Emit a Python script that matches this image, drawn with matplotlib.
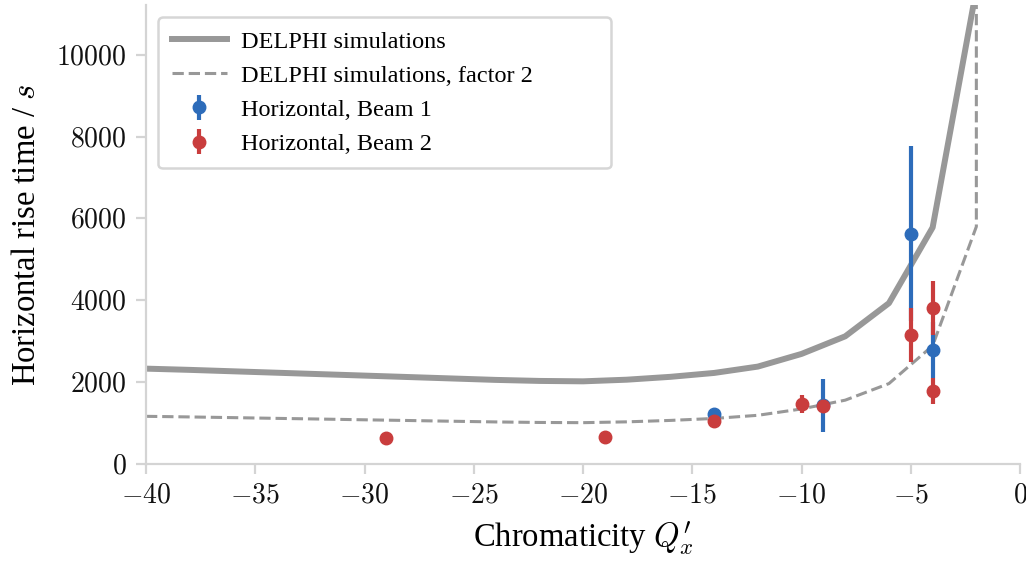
import matplotlib
matplotlib.use("Agg")
import matplotlib.pyplot as plt
from matplotlib.ticker import FuncFormatter, MultipleLocator

# DELPHI rise times on a chromaticity grid (last entry: unstable edge, off scale)
q_sim = [-40, -38, -36, -34, -32, -30, -28, -26, -24, -22, -20,
         -18, -16, -14, -12, -10, -8, -6, -4, -2, -2]
rise_sim = [2330, 2300, 2265, 2230, 2195, 2160, 2125, 2090, 2055, 2030, 2020,
            2060, 2130, 2225, 2380, 2690, 3120, 3930, 5780, 11600, 40000]
rise_sim_f2 = [1165, 1150, 1133, 1115, 1098, 1080, 1063, 1045, 1028, 1015, 1010,
               1030, 1065, 1113, 1190, 1345, 1560, 1965, 2890, 5800, 20000]

# measured rise times
q_b1 = [-14, -9, -5, -4]
rise_b1 = [1225, 1437, 5630, 2790]
err_b1 = [0, 648, 2130, 690]

q_b2 = [-29, -19, -14, -10, -9, -5, -4, -4]
rise_b2 = [635, 670, 1045, 1465, 1425, 3160, 3820, 1785]
err_b2 = [0, 0, 0, 230, 0, 660, 660, 315]

plt.rcParams["font.family"] = ["Liberation Serif", "DejaVu Serif"]
plt.rcParams["mathtext.fontset"] = "cm"

grey_spine = "#d4d4d4"
blue = "#2d6cba"
red = "#c93d3d"
sim_grey = "#989898"

fig = plt.figure(figsize=(10.26, 5.61), dpi=100)
ax = fig.add_axes([0.1423, 0.1729, 0.8519, 0.8181])

ax.plot(q_sim, rise_sim, color=sim_grey, lw=4.3, label="DELPHI simulations")
ax.plot(q_sim, rise_sim_f2, color=sim_grey, lw=2.2, ls="--",
        label="DELPHI simulations, factor 2")
ax.errorbar(q_b1, rise_b1, yerr=err_b1, fmt="o", color=blue, ms=9,
            elinewidth=3, capsize=0, label="Horizontal, Beam 1")
ax.errorbar(q_b2, rise_b2, yerr=err_b2, fmt="o", color=red, ms=9,
            elinewidth=3, capsize=0, label="Horizontal, Beam 2")

ax.set_xlim(-40, 0)
ax.set_ylim(0, 11214)
ax.xaxis.set_major_locator(MultipleLocator(5))
ax.yaxis.set_major_locator(MultipleLocator(2000))
ax.xaxis.set_major_formatter(FuncFormatter(lambda v, p: f"${v:g}$"))
ax.yaxis.set_major_formatter(FuncFormatter(lambda v, p: f"${v:g}$"))

for side in ["top", "right"]:
    ax.spines[side].set_visible(False)
for side in ["left", "bottom"]:
    ax.spines[side].set_color(grey_spine)
    ax.spines[side].set_linewidth(1.6)
ax.tick_params(axis="both", colors=grey_spine, length=7, width=1.6,
               labelcolor="#111111", labelsize=20, pad=7)

ax.set_xlabel("Chromaticity $Q^{\\prime}_x$", fontsize=23.5, labelpad=8)
ax.set_ylabel("Horizontal rise time / $s$", fontsize=23.5, labelpad=10)

leg = ax.legend(loc="upper left", mode="expand", fontsize=17.5, frameon=True,
                fancybox=True, borderaxespad=0.5, handlelength=2.3,
                handletextpad=0.55, labelspacing=0.5, borderpad=0.55,
                bbox_to_anchor=(0.0, 0.0, 0.546, 1.0))
leg.get_frame().set_edgecolor("#cccccc")
leg.get_frame().set_linewidth(1.8)

fig.savefig("out.png", dpi=100)
